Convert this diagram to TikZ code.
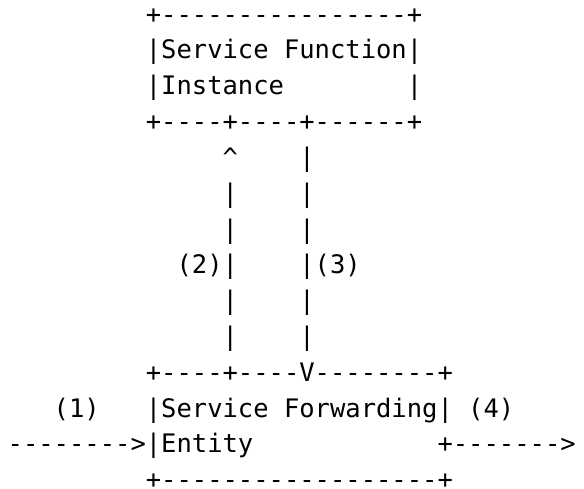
\documentclass[tikz,border=0pt]{standalone}
\usepackage{fontspec}
\setmonofont{DejaVu Sans Mono}
\usepackage{tikz}

\tikzset{
    ascii/.style={anchor=base west, inner sep=0pt, outer sep=0pt,
        text depth=0pt, yshift=-3.58pt,
        font=\ttfamily\fontsize{12.75pt}{17.9pt}\selectfont},
}

\begin{document}
\begin{tikzpicture}[x=7.675pt, y=-17.9pt]
    \useasboundingbox (-0.5,-0.447) rectangle (37.54,13.21);

    % Service Function Instance box (one unit = one character cell)
    \node[ascii] (sfitop)  at (9,0)  {+----------------+};
    \node[ascii] (sfiname) at (9,1)  {|Service Function|};
    \node[ascii] (sfiinst) at (9,2)  {|Instance};
    \node[ascii] (sfiside) at (26,2) {|};
    \node[ascii] (sfibot)  at (9,3)  {+----+----+------+};

    % (2) goes up, (3) comes down
    \node[ascii] (uptip)   at (14,4) {\textasciicircum};
    \node[ascii] (downtop) at (19,4) {|};
    \foreach \r in {5,6,8,9} {
        \node[ascii] (up\r)   at (14,\r) {|};
        \node[ascii] (down\r) at (19,\r) {|};
    }
    \node[ascii] (lbltwo)   at (11,7) {(2)|};
    \node[ascii] (lblthree) at (19,7) {|(3)};

    % Service Forwarding Entity box
    \node[ascii] (sfetop)  at (9,10)  {+----+----V--------+};
    \node[ascii] (lblone)  at (3,11)  {(1)};
    \node[ascii] (sfename) at (9,11)  {|Service Forwarding|};
    \node[ascii] (lblfour) at (30,11) {(4)};
    \node[ascii] (sfein)   at (0,12)  {-------->|Entity};
    \node[ascii] (sfeout)  at (28,12) {+------->};
    \node[ascii] (sfebot)  at (9,13)  {+------------------+};
\end{tikzpicture}
\end{document}
